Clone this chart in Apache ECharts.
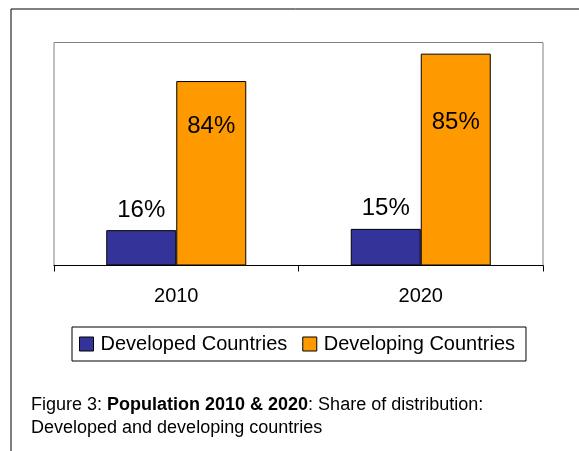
<!DOCTYPE html>
<html>
<head>
<meta charset="utf-8">
<script src="https://cdn.jsdelivr.net/npm/echarts@6/dist/echarts.min.js"></script>
<style>
  html, body { margin: 0; padding: 0; background: #fff; }
  #chart { width: 579px; height: 451px; }
</style>
</head>
<body>
<div id="chart"></div>
<script>
// Population by group, millions of people
const years = ['2010', '2020'];
const developed = [1110, 1150];
const developing = [5790, 6650];
const seriesNames = ['Developed Countries', 'Developing Countries'];

// Share of the year's total, as shown above/inside each bar
function shareLabel(values, i) {
  const total = developed[i] + developing[i];
  return Math.round(values[i] / total * 100) + '%';
}

// How far the share label sits below the top of each developing bar
const developingLabelInset = [33, 57];

const font = '"Liberation Sans", Arial, sans-serif';
const captionFont = '"Liberation Sans Narrow", "Liberation Sans", sans-serif';

const chart = echarts.init(document.getElementById('chart'), null, { renderer: 'canvas' });

chart.setOption({
  animation: false,
  backgroundColor: '#ffffff',
  textStyle: { fontFamily: font, color: '#000' },
  graphic: [
    {
      type: 'rect',
      shape: { x: 11, y: 9, width: 700, height: 600 },
      style: { fill: 'none', stroke: '#000', lineWidth: 1 },
      silent: true
    }
  ],
  title: {
    left: 31,
    top: 394,
    padding: 0,
    text: '{n|Figure 3: }{b|Population 2010 & 2020}{n|: Share of distribution:}\n{n|Developed and developing countries}',
    textStyle: {
      fontWeight: 'normal',
      rich: {
        n: { fontFamily: captionFont, fontSize: 18, lineHeight: 23, fontWeight: 'normal', color: '#000' },
        b: { fontFamily: captionFont, fontSize: 18, lineHeight: 23, fontWeight: 'bold', color: '#000' }
      }
    }
  },
  grid: {
    left: 54,
    top: 42.5,
    width: 489,
    height: 223,
    show: true,
    borderColor: '#808080',
    borderWidth: 1,
    backgroundColor: 'transparent'
  },
  legend: {
    left: 72,
    top: 327,
    data: seriesNames,
    icon: 'rect',
    itemWidth: 14,
    itemHeight: 14,
    itemGap: 15,
    padding: [7, 11, 7, 7],
    borderColor: '#000',
    borderWidth: 1,
    textStyle: { fontFamily: font, fontSize: 20, color: '#000', padding: [0, 0, 0, 2] },
    itemStyle: { borderColor: '#000', borderWidth: 1 }
  },
  xAxis: {
    type: 'category',
    data: years,
    boundaryGap: true,
    axisLine: { show: true, lineStyle: { color: '#000', width: 1 } },
    axisTick: { show: true, length: 6, lineStyle: { color: '#000' } },
    axisLabel: { fontFamily: font, fontSize: 20, color: '#000', margin: 21 }
  },
  yAxis: {
    type: 'value',
    min: 0,
    max: 7000,
    show: false,
    splitLine: { show: false }
  },
  series: [
    {
      name: seriesNames[0],
      type: 'bar',
      barWidth: 70,
      barGap: '0%',
      data: developed,
      itemStyle: { color: '#333399', borderColor: '#000', borderWidth: 1 },
      label: {
        show: true,
        position: 'top',
        distance: 8,
        fontFamily: font,
        fontSize: 24,
        color: '#000',
        formatter: p => shareLabel(developed, p.dataIndex)
      }
    },
    {
      name: seriesNames[1],
      type: 'bar',
      barWidth: 70,
      barGap: '0%',
      data: developing.map((v, i) => ({
        value: v,
        label: { distance: developingLabelInset[i] }
      })),
      itemStyle: { color: '#FF9900', borderColor: '#000', borderWidth: 1 },
      label: {
        show: true,
        position: 'insideTop',
        fontFamily: font,
        fontSize: 24,
        color: '#000',
        formatter: p => shareLabel(developing, p.dataIndex)
      }
    }
  ]
});
</script>
</body>
</html>
